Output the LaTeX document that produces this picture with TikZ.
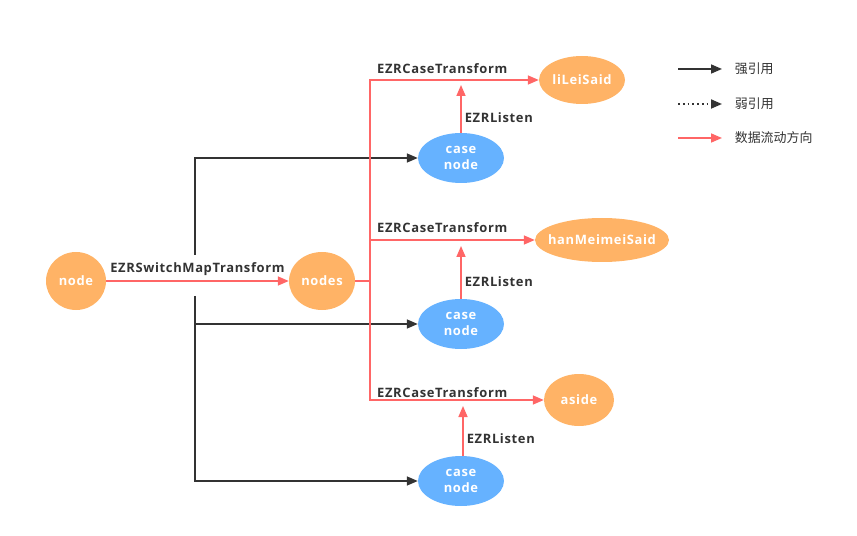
\documentclass[tikz,border=0pt]{standalone}
\usepackage{fontspec}
\setmainfont{Open Sans}
\newfontfamily\cjk{Noto Sans CJK SC}
\usepackage{xcolor}
\usetikzlibrary{arrows.meta,positioning,shapes.geometric,calc}

\definecolor{ezrorange}{RGB}{255,179,102}
\definecolor{ezrblue}{RGB}{102,178,255}
\definecolor{ezrred}{RGB}{255,102,102}
\definecolor{ezrdark}{RGB}{51,51,51}

\newcommand{\ezrfont}{\bfseries\fontsize{13}{16}\selectfont\addfontfeatures{LetterSpace=5}}

\begin{document}
\begin{tikzpicture}[
  x=1bp, y=-1bp,
  src/.style={ellipse, fill=ezrorange, text=white, font=\ezrfont, inner sep=0pt, align=center},
  casenode/.style={ellipse, fill=ezrblue, text=white, font=\ezrfont, inner sep=0pt, align=center, minimum width=86bp, minimum height=50bp},
  lbl/.style={text=ezrdark, font=\ezrfont, inner sep=0pt},
  legend/.style={text=ezrdark, font=\cjk\fontsize{13}{15}\selectfont, anchor=west, inner sep=0pt},
  strong/.style={draw=ezrdark, line width=1.6pt, -{Triangle[length=11bp, width=9bp]}},
  weak/.style={draw=ezrdark, line width=1.8pt, dash pattern=on 1.8pt off 3pt, -{Triangle[length=11bp, width=9bp]}},
  flow/.style={draw=ezrred, line width=1.6pt, -{Triangle[length=11bp, width=9bp]}},
  flowline/.style={draw=ezrred, line width=1.6pt}
]
\useasboundingbox (0,0) rectangle (857,536);

% data nodes
\node[src, minimum width=60bp, minimum height=58bp] (root) at (76,281) {node};
\node[src, minimum width=66bp, minimum height=58bp] (nodes) at (322,281) {nodes};
\node[src, minimum width=86bp, minimum height=48bp] (lilei) at (582,80) {liLeiSaid};
\node[src, minimum width=134bp, minimum height=44bp, inner xsep=-7bp] (hanmeimei) at (602,240) {hanMeimeiSaid};
\node[src, minimum width=70bp, minimum height=52bp] (aside) at (579,400) {aside};

% case nodes
\node[casenode] (caseA) at (461,158) {case\\node};
\node[casenode] (caseB) at (461,324) {case\\node};
\node[casenode] (caseC) at (461,481) {case\\node};

% switch map
\draw[flow] (root) -- (nodes) node[lbl, midway, above=5bp] {EZRSwitchMapTransform};

% strong references to the case nodes
\coordinate (hubUp) at (195,255);
\coordinate (hubDown) at (195,296);
\draw[strong] (hubUp) |- (caseA);
\draw[strong] (hubDown) |- (caseC);
\draw[strong] (hubDown |- caseB) -- (caseB);

% case transforms
\coordinate (split) at (370,281);
\draw[flowline] (nodes) -- (split);
\draw[flow] (split) |- (lilei);
\draw[flow] (split) |- (hanmeimei);
\draw[flow] (split) |- (aside);
\node[lbl, anchor=south west] at (377,74) {EZRCaseTransform};
\node[lbl, anchor=south west] at (377,233) {EZRCaseTransform};
\node[lbl, anchor=south west] at (377,398) {EZRCaseTransform};

% listen
\coordinate (tipA) at (461,85);
\coordinate (tipB) at (461,246);
\coordinate (tipC) at (463,406);
\draw[flow] (caseA.north) -- (tipA) node[lbl, pos=0.32, right=3bp] {EZRListen};
\draw[flow] (caseB.north) -- (tipB) node[lbl, pos=0.32, right=3bp] {EZRListen};
\draw[flow] (caseC.north -| tipC) -- (tipC) node[lbl, pos=0.34, right=3bp] {EZRListen};

% legend
\coordinate (legA) at (678,69);
\coordinate (legB) at (678,104);
\coordinate (legC) at (678,138);
\draw[strong] (legA) -- ++(44,0) node[legend, right=12bp] {强引用};
\draw[weak] (legB) -- ++(44,0) node[legend, right=12bp] {弱引用};
\draw[flow] (legC) -- ++(44,0) node[legend, right=12bp] {数据流动方向};
\end{tikzpicture}
\end{document}
